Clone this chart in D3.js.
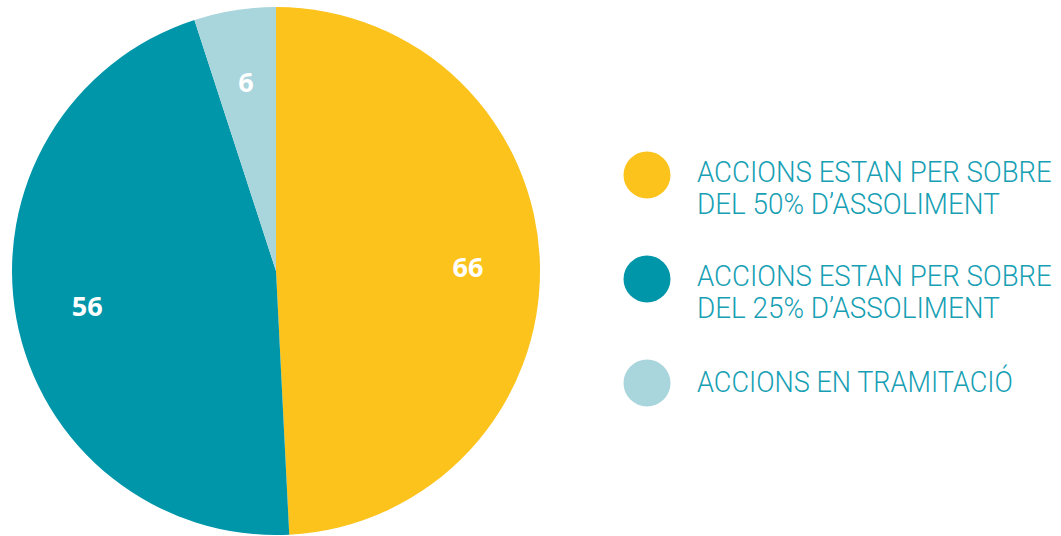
<!doctype html>
<html>
<head>
<meta charset="utf-8"/>
<title>Accions</title>
<script src="https://d3js.org/d3.v7.min.js"></script>
<style>
body { margin:0; background:#fff; }
</style>
</head>
<body>
<script type="text/javascript">
// valors mostrats a les etiquetes
var valors = [66, 56, 6];
// part de cada sector (%), llegida dels angles del gràfic original
var parts = [49.2, 45.8, 5.0];
var colors = ["#fbc31b", "#0096a9", "#a9d5dc"];
var llegenda = [
  ["ACCIONS ESTAN PER SOBRE", "DEL 50% D\u2019ASSOLIMENT"],
  ["ACCIONS ESTAN PER SOBRE", "DEL 25% D\u2019ASSOLIMENT"],
  ["ACCIONS EN TRAMITACIÓ"]
];
// amplades dels textos de la llegenda al gràfic original
var amplades = [[355, 303], [355, 303], [316]];

var W = 1061, H = 536;
var svg = d3.select("body").append("svg")
  .attr("width", W)
  .attr("height", H);

var cx = 276, cy = 271, R = 264;

var pie = d3.pie().sort(null).value(function(d){ return d; });
var arcs = pie(parts);
var arc = d3.arc().innerRadius(0).outerRadius(R);
var arcText = d3.arc().innerRadius(192).outerRadius(192);

var g = svg.append("g").attr("transform", "translate(" + cx + "," + cy + ")");

g.selectAll("path")
  .data(arcs)
  .enter().append("path")
  .attr("d", arc)
  .attr("fill", function(d, i){ return colors[i]; });

g.selectAll("text")
  .data(arcs)
  .enter().append("text")
  .attr("transform", function(d){ return "translate(" + arcText.centroid(d) + ")"; })
  .attr("text-anchor", "middle")
  .attr("dominant-baseline", "central")
  .attr("fill", "#fff")
  .style("font-family", "'Open Sans', sans-serif")
  .style("font-weight", "700")
  .style("font-size", "27px")
  .text(function(d, i){ return valors[i]; });

// llegenda
var ly = d3.scalePoint().domain(d3.range(llegenda.length)).range([175, 383]);

var items = svg.selectAll("g.item")
  .data(llegenda)
  .enter().append("g")
  .attr("class", "item")
  .attr("transform", function(d, i){ return "translate(647," + ly(i) + ")"; });

items.append("circle")
  .attr("r", 23.5)
  .attr("fill", function(d, i){ return colors[i]; });

items.each(function(linies, i){
  var item = d3.select(this);
  var y0 = linies.length == 1 ? 9 : 7;
  linies.forEach(function(l, k){
    var t = item.append("text")
      .attr("fill", "#17a0b4")
      .style("font-family", "Roboto, sans-serif")
      .style("font-weight", "300")
      .style("font-size", "30px")
      .text(l);
    // text estret com al tipus de lletra original
    var sx = amplades[i][k] / t.node().getComputedTextLength();
    t.attr("transform", "translate(50," + (y0 + k * 32) + ") scale(" + sx + ",1)");
  });
});
</script>
</body>
</html>
